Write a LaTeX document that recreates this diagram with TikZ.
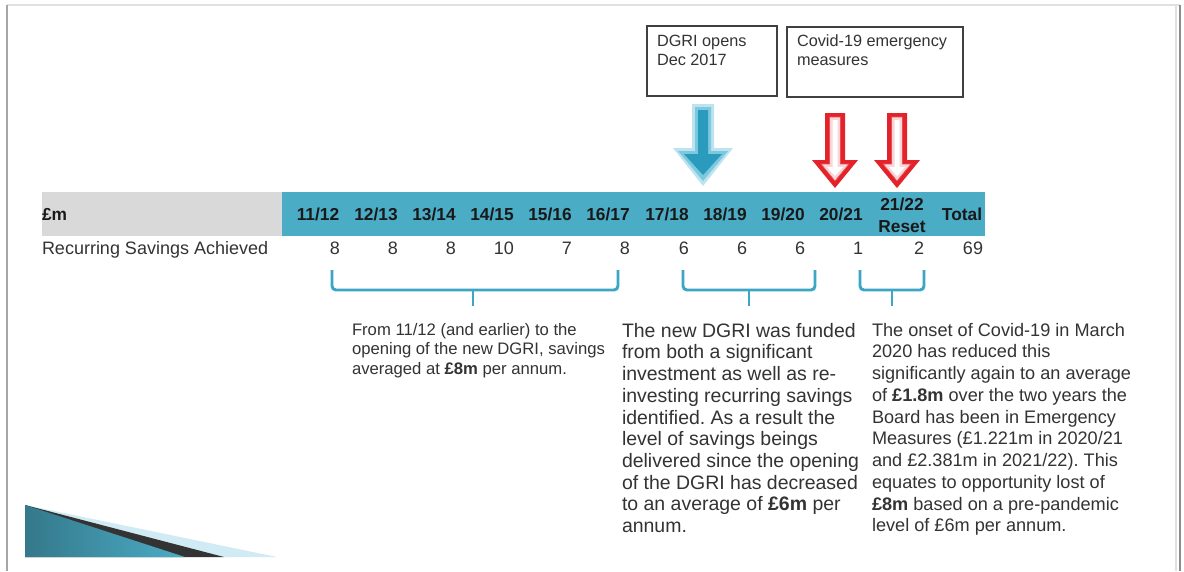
\documentclass[tikz,border=0pt]{standalone}
\usepackage{fontspec}
\setmainfont{Liberation Sans}
\frenchspacing
\definecolor{barblue}{HTML}{4BACC6}
\definecolor{bargray}{HTML}{D9D9D9}
\definecolor{txt}{HTML}{333333}
\definecolor{bracecol}{HTML}{3CA6C4}
\definecolor{arrred}{HTML}{E42229}
\definecolor{arrpink}{HTML}{F9D6D9}
\definecolor{bluedark}{HTML}{2A9ABD}
\definecolor{blueglow}{HTML}{BCE3EF}
\definecolor{bluemid}{HTML}{7CC8DE}
\newcommand\dnarrow[7]{\path[#7] ({#1-#5},#2) -- ({#1+#5},#2) -- ({#1+#5},#3) -- ({#1+#6},#3) -- (#1,#4) -- ({#1-#6},#3) -- ({#1-#5},#3) -- cycle;}
\begin{document}
\begin{tikzpicture}[x=0.75pt,y=-0.75pt,
  every node/.style={inner sep=0pt,outer sep=0pt},
  hdr/.style={font=\fontsize{13}{16.5}\selectfont\bfseries,text=black!90,anchor=base},
  val/.style={font=\fontsize{13.5}{16}\selectfont,text=txt,anchor=base east},
  bodyl/.style={font=\fontsize{12.5}{14.6}\selectfont,text=txt,anchor=north west,align=left},
  bodym/.style={font=\fontsize{14.6}{16.3}\selectfont,text=txt,anchor=north west,align=left},
  bodyr/.style={font=\fontsize{13.6}{16.3}\selectfont,text=txt,anchor=north west,align=left},
  boxtxt/.style={font=\fontsize{12.2}{14.3}\selectfont,text=txt,anchor=north west,align=left},
  boxline/.style={draw=black!75,line width=1.1pt},
  bracest/.style={draw=bracecol,line width=2.2pt,rounded corners=3pt}]
\useasboundingbox (0,0) rectangle (1184,571);
\fill[white] (0,0) rectangle (1184,571);
% slide frame
\draw[black!12,line width=1.5pt] (7,5) -- (1180,5);
\draw[black!35,line width=1.5pt] (7,5) -- (7,571);
\draw[black!12,line width=2pt] (1176,5) -- (1176,571);
\draw[black!45,line width=1.5pt] (1180,5) -- (1180,571);
% table header bar
\fill[bargray] (42,192) rectangle (282,236);
\fill[barblue] (282,192) rectangle (985,236);
\node[hdr,anchor=base west] (pm) at (42,220) {£m};
\foreach \x/\t [count=\i] in {318/11\slash 12,376/12\slash 13,434/13\slash 14,492/14\slash 15,550/15\slash 16,608/16\slash 17,667/17\slash 18,725/18\slash 19,783/19\slash 20,841/20\slash 21}
  \node[hdr] (h\i) at (\x,220) {\t};
\node[hdr,anchor=center,align=center] (h11) at (902,215) {21/22\\Reset};
\node[hdr] (htot) at (962,220) {Total};
% values row
\node[val,anchor=base west] (rsa) at (42,254.5) {Recurring Savings Achieved};
\foreach \x/\v [count=\i] in {340/8,398/8,456/8,514/10,572/7,630/8,689/6,747/6,805/6,863/1,924/2,983/69}
  \node[val] (v\i) at (\x,254.5) {\v};
% top boxes
\draw[boxline] (647,26) rectangle (777,96);
\node[boxtxt] (dgri) at (657,35) {DGRI opens\\Dec 2017};
\draw[boxline] (787,27) rectangle (963,97);
\node[boxtxt] (covid) at (797,35) {Covid-19 emergency\\measures};
% blue arrow
\dnarrow{703}{104}{148}{186}{11}{30}{fill=blueglow}
\dnarrow{703}{107}{151}{181}{8}{25}{fill=bluemid}
\dnarrow{703}{110}{154}{175}{5}{19}{fill=bluedark}
% red arrows
\foreach \cx in {835,897}{
  \dnarrow{\cx}{113}{160}{188}{10}{23}{fill=arrred}
  \dnarrow{\cx}{117}{164}{181}{5.5}{14}{fill=arrpink,draw=arrred!80,line width=0.5pt}
  \dnarrow{\cx}{120}{167}{176}{2.5}{8}{fill=white}
}
% braces
\draw[bracest] (332,270) -- (332,290) -- (618,290) -- (618,270);
\draw[draw=bracecol,line width=2.2pt] (473,290) -- (473,306);
\draw[bracest] (683,270) -- (683,290) -- (815,290) -- (815,270);
\draw[draw=bracecol,line width=2.2pt] (749,290) -- (749,306);
\draw[bracest] (860,270) -- (860,290) -- (924,290) -- (924,270);
\draw[draw=bracecol,line width=2.2pt] (892,290) -- (892,306);
% texts
\node[bodyl] (tl) at (352,323) {From 11/12 (and earlier) to the\\opening of the new DGRI, savings\\averaged at \textbf{£8m} per annum.};
\node[bodym] (tm) at (622,323) {The new DGRI was funded\\from both a significant\\investment as well as re-\\investing recurring savings\\identified. As a result the\\level of savings beings\\delivered since the opening\\of the DGRI has decreased\\to an average of \textbf{£6m} per\\annum.};
\node[bodyr] (tr) at (872,323) {The onset of Covid-19 in March\\2020 has reduced this\\significantly again to an average\\of \textbf{£1.8m} over the two years the\\Board has been in Emergency\\Measures (£1.221m in 2020/21\\and £2.381m in 2021/22). This\\equates to opportunity lost of\\\textbf{£8m} based on a pre-pandemic\\level of £6m per annum.};
% bottom-left decoration
\fill[blueglow!70] (25,505) -- (277,557) -- (25,557) -- cycle;
\fill[black!80] (25,505) -- (224,557) -- (25,557) -- cycle;
\shade[left color=barblue!70!black,right color=barblue] (25,505) -- (185,557) -- (25,557) -- cycle;
\end{tikzpicture}
\end{document}
